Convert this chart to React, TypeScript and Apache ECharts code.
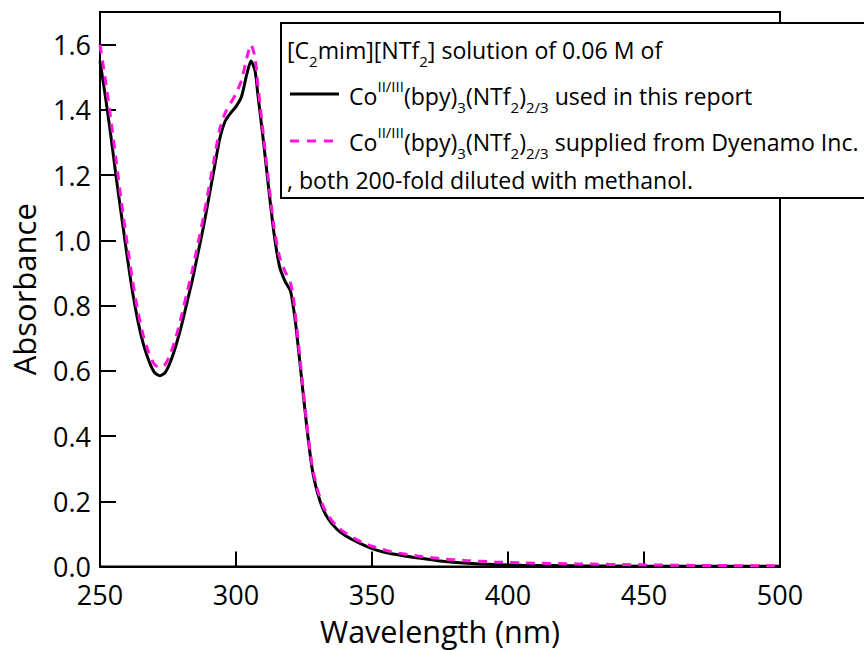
import React, { useEffect, useRef } from "react";
import * as echarts from "echarts";

// Wavelength grid (nm)
const wavelengths = [
  250, 252, 254, 256, 258, 260, 262, 264, 266, 268, 270, 272, 274, 276, 278,
  280, 282, 284, 286, 288, 290, 292, 294, 296, 298, 300, 302, 304, 305.5, 307,
  308, 310, 312, 314, 316, 318, 320, 321, 322, 324, 326, 328, 330, 332, 334,
  337, 340, 345, 350, 355, 360, 367, 375, 385, 395, 405, 425, 450, 475, 500,
];

// Co(bpy)3(NTf2)2/3 used in this report (black solid)
const usedInReport = [
  1.55, 1.44, 1.32, 1.19, 1.07, 0.95, 0.84, 0.75, 0.68, 0.63, 0.595, 0.585, 0.595, 0.63, 0.68,
  0.74, 0.81, 0.88, 0.96, 1.04, 1.13, 1.22, 1.31, 1.365, 1.39, 1.41, 1.44, 1.51, 1.55, 1.52,
  1.45, 1.31, 1.16, 1.02, 0.92, 0.875, 0.845, 0.8, 0.74, 0.585, 0.43, 0.3, 0.225, 0.176, 0.145,
  0.115, 0.096, 0.073, 0.055, 0.043, 0.035, 0.026, 0.017, 0.01, 0.006, 0.004, 0.002, 0.001, 0.001, 0.001,
];

// Co(bpy)3(NTf2)2/3 supplied from Dyenamo Inc. (magenta dashed)
const dyenamo = [
  1.6, 1.49, 1.37, 1.24, 1.11, 0.99, 0.875, 0.78, 0.705, 0.655, 0.62, 0.61, 0.62, 0.655, 0.705,
  0.77, 0.84, 0.91, 0.99, 1.07, 1.16, 1.25, 1.34, 1.39, 1.42, 1.45, 1.49, 1.56, 1.6, 1.56,
  1.48, 1.33, 1.18, 1.04, 0.95, 0.905, 0.87, 0.83, 0.76, 0.6, 0.44, 0.31, 0.235, 0.186, 0.155,
  0.124, 0.104, 0.08, 0.062, 0.05, 0.041, 0.032, 0.024, 0.018, 0.014, 0.011, 0.008, 0.005, 0.003, 0.002,
];

const xName = "Wavelength (nm)";
const yName = "Absorbance";

const MAGENTA = "#ff14dc";
const FONT = '"Open Sans", "Noto Sans", sans-serif';
const LEG = 23.1;

export default function App() {
  const ref = useRef<HTMLDivElement>(null);

  useEffect(() => {
    if (!ref.current) return;
    const chart = echarts.init(ref.current, null, { renderer: "svg" });

    const black = wavelengths.map((w, i) => [w, usedInReport[i]]);
    const pink = wavelengths.map((w, i) => [w, dyenamo[i]]);

    const rich = {
      n: { fontSize: LEG, lineHeight: 36, verticalAlign: "middle", fontFamily: FONT, fill: "#000" },
      s1: { fontSize: 15, lineHeight: 20, verticalAlign: "bottom", fontFamily: FONT, fill: "#000" },
      s: { fontSize: 15, lineHeight: 10, verticalAlign: "bottom", fontFamily: FONT, fill: "#000" },
      sup: { fontSize: 15, lineHeight: 16, verticalAlign: "top", fontFamily: FONT, fill: "#000" },
    };

    const coPart = "{n|Co}{sup|II/III}{n|(bpy)}{s|3}{n|(NTf}{s|2}{n|)}{s|2/3}";

    chart.setOption({
      animation: false,
      backgroundColor: "#fff",
      grid: {
        left: 100,
        right: 84,
        top: 12,
        bottom: 81,
        show: true,
        borderColor: "#000",
        borderWidth: 2,
        backgroundColor: "transparent",
      },
      xAxis: {
        type: "value",
        min: 250,
        max: 500,
        interval: 50,
        name: xName,
        nameLocation: "middle",
        nameGap: 49,
        nameTextStyle: { fontSize: 30.5, lineHeight: 30, color: "#000", fontFamily: FONT },
        axisLine: { show: true, lineStyle: { color: "#000", width: 2 } },
        axisTick: { show: true, inside: true, length: 15, lineStyle: { color: "#000", width: 2 } },
        axisLabel: { fontSize: 27, lineHeight: 24, color: "#000", fontFamily: FONT, margin: 16 },
        splitLine: { show: false },
      },
      yAxis: {
        type: "value",
        min: 0,
        max: 1.7,
        interval: 0.2,
        name: yName,
        nameLocation: "middle",
        nameGap: 61,
        nameTextStyle: { fontSize: 31, color: "#000", fontFamily: FONT },
        axisLine: { show: true, lineStyle: { color: "#000", width: 2 } },
        axisTick: { show: true, inside: true, length: 16, lineStyle: { color: "#000", width: 2 } },
        axisLabel: {
          fontSize: 27,
          lineHeight: 24,
          color: "#000",
          fontFamily: FONT,
          margin: 9,
          formatter: (v: number) => (v > 1.65 ? "" : v.toFixed(1)),
        },
        splitLine: { show: false },
      },
      series: [
        {
          type: "line",
          data: black,
          smooth: 0.25,
          showSymbol: false,
          lineStyle: { color: "#000", width: 3 },
          z: 2,
        },
        {
          type: "line",
          data: pink,
          smooth: 0.25,
          showSymbol: false,
          lineStyle: { color: MAGENTA, width: 3, type: [9, 7] },
          z: 3,
        },
      ],
      graphic: [
        {
          type: "rect",
          z: 100,
          shape: { x: 281, y: 23, width: 620, height: 175 },
          style: { fill: "#fff", stroke: "#000", lineWidth: 2 },
        },
        {
          type: "line",
          z: 101,
          shape: { x1: 290, y1: 94, x2: 339, y2: 94 },
          style: { stroke: "#000", lineWidth: 3 },
        },
        {
          type: "line",
          z: 101,
          shape: { x1: 290, y1: 141, x2: 333, y2: 141 },
          style: { stroke: MAGENTA, lineWidth: 3, lineDash: [9, 8] },
        },
        {
          type: "text",
          z: 101,
          x: 287,
          y: 50,
          style: {
            text: "{n|[C}{s1|2}{n|mim][NTf}{s1|2}{n|] solution of 0.06 M of}",
            rich,
            fill: "#000",
            fontSize: LEG,
            fontFamily: FONT,
            align: "left",
            verticalAlign: "middle",
          },
        },
        {
          type: "text",
          z: 101,
          x: 349,
          y: 96,
          style: {
            text: coPart + "{n| used in this report}",
            rich,
            fill: "#000",
            fontSize: LEG,
            fontFamily: FONT,
            align: "left",
            verticalAlign: "middle",
          },
        },
        {
          type: "text",
          z: 101,
          x: 349,
          y: 142,
          style: {
            text: coPart + "{n| supplied from Dyenamo Inc.}",
            rich,
            fill: "#000",
            fontSize: LEG,
            fontFamily: FONT,
            align: "left",
            verticalAlign: "middle",
          },
        },
        {
          type: "text",
          z: 101,
          x: 287,
          y: 180,
          style: {
            text: ", both 200-fold diluted with methanol.",
            fill: "#000",
            fontSize: LEG,
            fontFamily: FONT,
            align: "left",
            verticalAlign: "middle",
          },
        },
      ],
    });

    return () => chart.dispose();
  }, []);

  return (
    <div
      ref={ref}
      style={{ position: "fixed", left: 0, top: 0, width: 864, height: 651, background: "#fff" }}
    />
  );
}
